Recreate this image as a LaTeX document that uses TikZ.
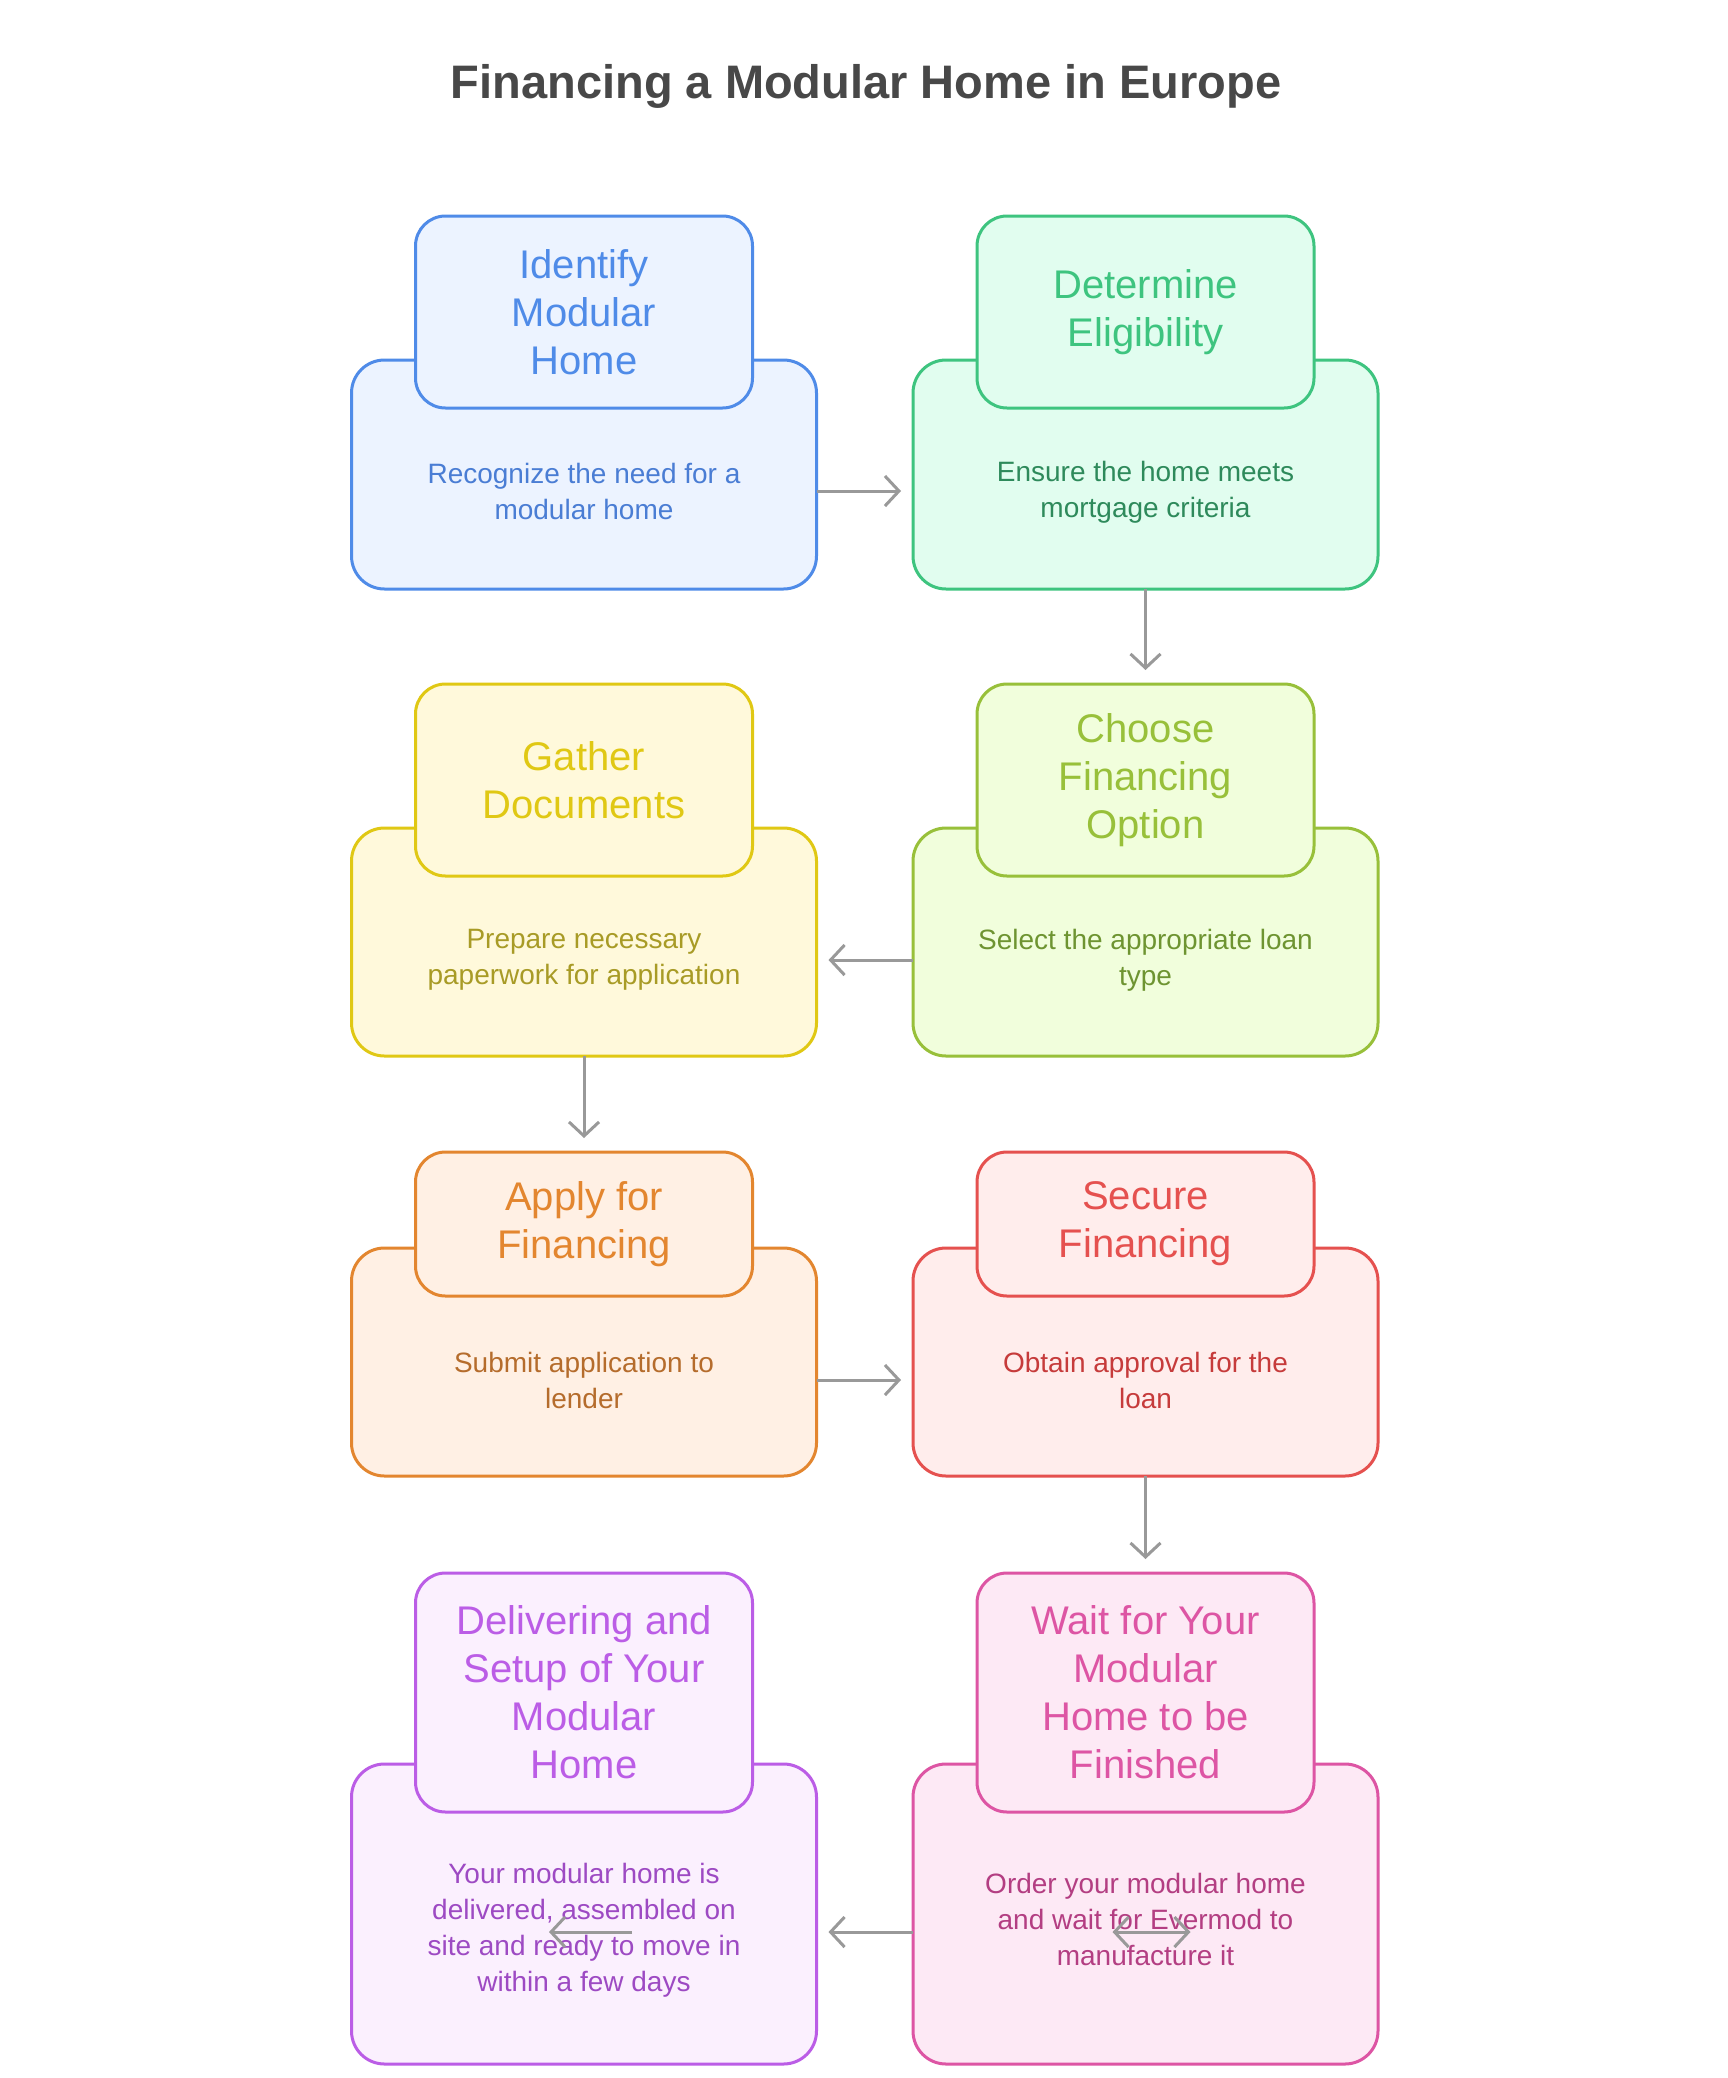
\documentclass[tikz,border=0pt]{standalone}
\usepackage{fontspec}
\setmainfont{Liberation Sans}
\usetikzlibrary{arrows.meta}

\definecolor{arrowgray}{HTML}{999999}
\definecolor{titlegray}{HTML}{484848}
\definecolor{blueline}{HTML}{4F8BE8}\definecolor{bluefill}{HTML}{ECF3FF}\definecolor{bluetext}{HTML}{4A7DD4}
\definecolor{greenline}{HTML}{3EC47F}\definecolor{greenfill}{HTML}{E1FDEF}\definecolor{greentext}{HTML}{2E8A5B}
\definecolor{yellowline}{HTML}{E0C814}\definecolor{yellowfill}{HTML}{FFF9DB}\definecolor{yellowtext}{HTML}{A89B26}
\definecolor{limeline}{HTML}{98C03A}\definecolor{limefill}{HTML}{F1FEDC}\definecolor{limetext}{HTML}{6E9431}
\definecolor{orangeline}{HTML}{E3862F}\definecolor{orangefill}{HTML}{FFF0E4}\definecolor{orangetext}{HTML}{B56C2C}
\definecolor{redline}{HTML}{E5514F}\definecolor{redfill}{HTML}{FFEDEC}\definecolor{redtext}{HTML}{C63B3B}
\definecolor{purpleline}{HTML}{BB5DE6}\definecolor{purplefill}{HTML}{FBF0FE}\definecolor{purpletext}{HTML}{9D4AC3}
\definecolor{pinkline}{HTML}{DD55A4}\definecolor{pinkfill}{HTML}{FDE9F5}\definecolor{pinktext}{HTML}{B33E82}

\tikzset{
	card/.style={draw=#1line, fill=#1fill, line width=3pt, inner sep=0pt, outer sep=0pt},
	bigbox/.style={card=#1, rounded corners=33pt, minimum width=465pt},
	smallbox/.style={card=#1, rounded corners=30pt, minimum width=337pt, text=#1line,
		align=center, font=\fontsize{40}{48}\selectfont},
	desc/.style={text=#1text, align=center, inner sep=0pt, font=\fontsize{28}{36}\selectfont},
	arr/.style={draw=arrowgray, line width=3pt, -{Straight Barb[length=14pt,width=30pt]}},
	dblarr/.style={draw=arrowgray, line width=3pt, {Straight Barb[length=14pt,width=30pt]}-{Straight Barb[length=14pt,width=30pt]}}
}

\begin{document}
\begin{tikzpicture}[x=1pt, y=-1pt]
		\useasboundingbox (0,0) rectangle (1728,2078);
		\fill[white] (0,0) rectangle (1728,2078);
		\node[text=titlegray, font=\fontsize{47}{56}\selectfont\bfseries] (title) at (866,86) {Financing a Modular Home in Europe};

		% row 1
		\node[bigbox=blue, minimum height=229pt] (identbig) at (584,474.5) {};
		\node[smallbox=blue, minimum height=192pt] (ident) at (584,312) {Identify\\Modular\\Home};
		\node[desc=blue] (identdesc) at (584,491) {Recognize the need for a\\modular home};
		\node[bigbox=green, minimum height=229pt] (eligbig) at (1145.5,474.5) {};
		\node[smallbox=green, minimum height=192pt] (elig) at (1145.5,312) {Determine\\Eligibility};
		\node[desc=green] (eligdesc) at (1145.5,492) {Ensure the home meets\\mortgage criteria};

		% row 2
		\node[bigbox=yellow, minimum height=228pt] (gatherbig) at (584,942) {};
		\node[smallbox=yellow, minimum height=192pt] (gather) at (584,780) {Gather\\Documents};
		\node[desc=yellow] (gatherdesc) at (584,960) {Prepare necessary\\paperwork for application};
		\node[bigbox=lime, minimum height=228pt] (choosebig) at (1145.5,942) {};
		\node[smallbox=lime, minimum height=192pt] (choose) at (1145.5,780) {Choose\\Financing\\Option};
		\node[desc=lime] (choosedesc) at (1145.5,960) {Select the appropriate loan\\type};

		% row 3
		\node[bigbox=orange, minimum height=228pt] (applybig) at (584,1362) {};
		\node[smallbox=orange, minimum height=144pt] (apply) at (584,1224) {Apply for\\Financing};
		\node[desc=orange] (applydesc) at (584,1380) {Submit application to\\lender};
		\node[bigbox=red, minimum height=228pt] (securebig) at (1145.5,1362) {};
		\node[smallbox=red, minimum height=144pt] (secure) at (1145.5,1224) {Secure\\Financing};
		\node[desc=red] (securedesc) at (1145.5,1380) {Obtain approval for the\\loan};

		% row 4
		\node[bigbox=purple, minimum height=300pt] (setupbig) at (584,1914) {};
		\node[smallbox=purple, minimum height=239pt] (setup) at (584,1692.5) {Delivering and\\Setup of Your\\Modular\\Home};
		\node[desc=purple] (setupdesc) at (584,1930) {Your modular home is\\delivered, assembled on\\site and ready to move in\\within a few days};
		\node[bigbox=pink, minimum height=300pt] (waitbig) at (1145.5,1914) {};
		\node[smallbox=pink, minimum height=239pt] (wait) at (1145.5,1692.5) {Wait for Your\\Modular\\Home to be\\Finished};
		\node[desc=pink] (waitdesc) at (1145.5,1919) {Order your modular home\\and wait for Evermod to\\manufacture it};

		% connectors
		\draw[arr] (identdesc -| identbig.east) -- ([xshift=-12pt]identdesc -| eligbig.west);
		\draw[arr] (eligbig.south) -- ([yshift=14pt]choose.north);
		\draw[arr] (choosedesc -| choosebig.west) -- ([xshift=12pt]choosedesc -| gatherbig.east);
		\draw[arr] (gatherbig.south) -- ([yshift=14pt]apply.north);
		\draw[arr] (applydesc -| applybig.east) -- ([xshift=-12pt]applydesc -| securebig.west);
		\draw[arr] (securebig.south) -- ([yshift=14pt]wait.north);
		\draw[arr] ([yshift=-18pt]waitbig.west) -- ([xshift=12pt,yshift=-18pt]setupbig.east);

		% stray arrows on the last row
		\coordinate (strayA) at ([xshift=48pt,yshift=-18pt]setupbig.center);
		\coordinate (strayB) at ([xshift=-35pt,yshift=-18pt]setupbig.center);
		\coordinate (strayC) at ([xshift=-33pt,yshift=-18pt]waitbig.center);
		\coordinate (strayD) at ([xshift=45pt,yshift=-18pt]waitbig.center);
		\draw[arr] (strayA) -- (strayB);
		\draw[dblarr] (strayC) -- (strayD);
\end{tikzpicture}
\end{document}
